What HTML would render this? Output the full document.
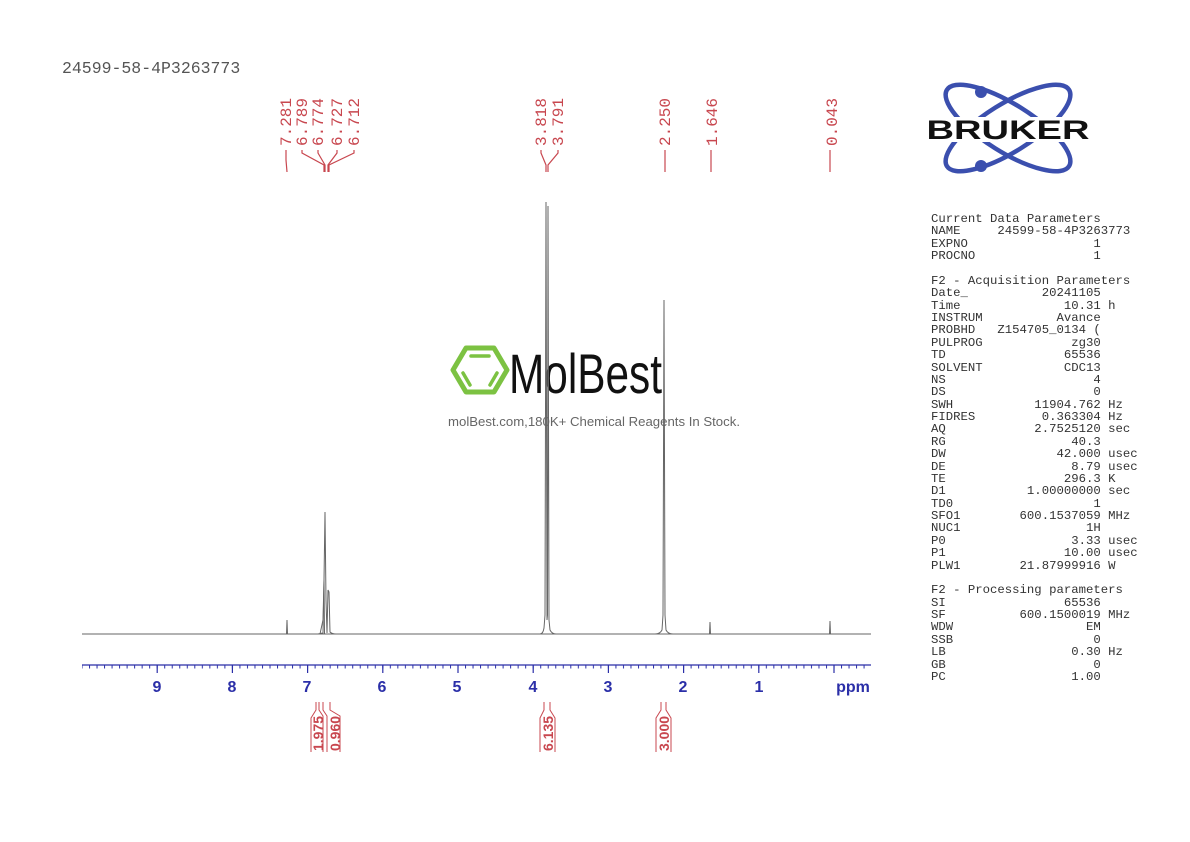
<!DOCTYPE html>
<html><head><meta charset="utf-8"><style>
html,body{margin:0;padding:0;background:#fff;}
body{width:1190px;height:842px;position:relative;overflow:hidden;}
pre{position:absolute;left:931px;top:213px;margin:0;font-family:"Liberation Mono",monospace;font-size:12.3px;line-height:12.37px;color:#333;}
</style></head><body>
<svg width="1190" height="842" style="position:absolute;left:0;top:0" xmlns="http://www.w3.org/2000/svg">
<defs>
<pattern id="mt" patternUnits="userSpaceOnUse" x="833.5" y="0" width="7.52" height="20">
<rect x="0" y="0" width="1" height="20" fill="#2b2fa8"/>
</pattern>
</defs>
<text x="62" y="73" font-family="Liberation Mono,monospace" font-size="16.5" fill="#555">24599-58-4P3263773</text>

<!-- peak labels -->
<g font-family="Liberation Mono,monospace" font-size="16" fill="#c8474f">
<text transform="translate(291,146) rotate(-90)">7.281</text>
<text transform="translate(307,146) rotate(-90)">6.789</text>
<text transform="translate(323,146) rotate(-90)">6.774</text>
<text transform="translate(342,146) rotate(-90)">6.727</text>
<text transform="translate(359,146) rotate(-90)">6.712</text>
<text transform="translate(546,146) rotate(-90)">3.818</text>
<text transform="translate(563,146) rotate(-90)">3.791</text>
<text transform="translate(670,146) rotate(-90)">2.250</text>
<text transform="translate(717,146) rotate(-90)">1.646</text>
<text transform="translate(837,146) rotate(-90)">0.043</text>
</g>
<g stroke="#c8474f" stroke-width="1.2" fill="none">
<path d="M286,150 L286,160 L287,172"/>
<path d="M302,150 L302,153 L324,165 L324,172"/>
<path d="M318,150 L318,153 L325,165 L325,172"/>
<path d="M337,150 L337,153 L328,165 L328,172"/>
<path d="M354,150 L354,153 L329,165 L329,172"/>
<path d="M541,150 L541,153 L546,165 L546,172"/>
<path d="M558,150 L558,153 L548,165 L548,172"/>
<path d="M665,150 L665,172"/>
<path d="M711,150 L711,172"/>
<path d="M830,150 L830,172"/>
</g>

<!-- Bruker logo -->
<g fill="none" stroke="#3b4fae" stroke-width="4.5">
<ellipse cx="1008" cy="128" rx="72" ry="24" transform="rotate(32 1008 128)"/>
<ellipse cx="1008" cy="128" rx="72" ry="24" transform="rotate(-32 1008 128)"/>
</g>
<circle cx="981" cy="92" r="6" fill="#3b4fae"/>
<circle cx="981" cy="166" r="6" fill="#3b4fae"/>
<rect x="924" y="117" width="168" height="25" fill="#fff"/>
<text x="1008" y="139" text-anchor="middle" font-family="Liberation Sans,sans-serif" font-weight="bold" font-size="27" fill="#111" textLength="163" lengthAdjust="spacingAndGlyphs">BRUKER</text>

<!-- MolBest watermark -->
<g fill="none" stroke="#7cc242" stroke-width="5" stroke-linejoin="round">
<polygon points="466,348 494,348 507,370 494,392 466,392 453,370"/>
</g>
<g stroke="#7cc242" stroke-width="3.5" stroke-linecap="round">
<line x1="471" y1="356" x2="489" y2="356"/>
<line x1="463" y1="373" x2="470" y2="385"/>
<line x1="497" y1="373" x2="490" y2="385"/>
</g>
<text x="509" y="393" font-family="Liberation Sans Narrow,Liberation Sans,sans-serif" font-size="56" fill="#111" textLength="153" lengthAdjust="spacingAndGlyphs">MolBest</text>
<text x="448" y="426" font-family="Liberation Sans,sans-serif" font-size="13" fill="#666" textLength="292" lengthAdjust="spacingAndGlyphs">molBest.com,180K+ Chemical Reagents In Stock.</text>

<!-- spectrum -->
<g stroke="#666" stroke-width="1" fill="none">
<line x1="82" y1="634" x2="871" y2="634"/>
<path d="M284,634 L286.5,634 L287,620 L287.5,634 L290,634"/>
<path d="M318,634 Q322,633 323,633 L324,580 L325,512 L326,600 L327,633 L328,590 L329,592 L330,632 Q332,634 336,634"/>
<path d="M320,634 L323,620 L324,580 L324.5,634"/>
<path d="M540,634 Q543,634 544,628 L545,615 L546,202 L547,620 L547.5,615 L548,206 L549,620 L550,630 Q552,634 556,634"/>
<path d="M655,634 Q660,634 662,630 L663,615 L664,300 L665,615 L666,630 Q668,634 673,634"/>
<path d="M708,634 L709.5,634 L710,622 L710.5,634 L712,634"/>
<path d="M828,634 L829.5,634 L830,621 L830.5,634 L832,634"/>
</g>

<!-- axis -->
<rect x="82" y="665" width="789" height="3.5" fill="url(#mt)"/>
<g stroke="#2b2fa8" stroke-width="1.2">
<line x1="82" y1="665" x2="871" y2="665"/>
<path d="M157.2,665v8M232.4,665v8M307.6,665v8M382.8,665v8M458,665v8M533.2,665v8M608.4,665v8M683.6,665v8M758.8,665v8M834,665v8"/>
</g>
<g font-family="Liberation Sans,sans-serif" font-weight="bold" font-size="16" fill="#2b2fa8" text-anchor="middle">
<text x="157" y="692">9</text><text x="232" y="692">8</text><text x="307" y="692">7</text>
<text x="382" y="692">6</text><text x="457" y="692">5</text><text x="533" y="692">4</text>
<text x="608" y="692">3</text><text x="683" y="692">2</text><text x="759" y="692">1</text>
<text x="853" y="692">ppm</text>
</g>

<!-- integrals -->
<g stroke="#c8474f" stroke-width="1" fill="none">
<path d="M311,752 L311,718 L316,710 L316,702"/>
<path d="M319,702 L319,710 L323,716 L323,752"/>
<path d="M327,752 L327,716 L323,710 L323,702"/>
<path d="M340,752 L340,716 L330,710 L330,702"/>
<path d="M540,752 L540,718 L544,710 L544,702"/>
<path d="M550,702 L550,710 L555,718 L555,752"/>
<path d="M656,752 L656,718 L661,710 L661,702"/>
<path d="M666,702 L666,710 L671,718 L671,752"/>
</g>
<g font-family="Liberation Sans,sans-serif" font-weight="bold" font-size="14" fill="#c8474f">
<text transform="translate(323,751) rotate(-90)">1.975</text>
<text transform="translate(340,751) rotate(-90)">0.960</text>
<text transform="translate(553,751) rotate(-90)">6.135</text>
<text transform="translate(669,751) rotate(-90)">3.000</text>
</g>
</svg>
<pre>Current Data Parameters
NAME     24599-58-4P3263773
EXPNO                 1
PROCNO                1

F2 - Acquisition Parameters
Date_          20241105
Time              10.31 h
INSTRUM          Avance
PROBHD   Z154705_0134 (
PULPROG            zg30
TD                65536
SOLVENT           CDC13
NS                    4
DS                    0
SWH           11904.762 Hz
FIDRES         0.363304 Hz
AQ            2.7525120 sec
RG                 40.3
DW               42.000 usec
DE                 8.79 usec
TE                296.3 K
D1           1.00000000 sec
TD0                   1
SFO1        600.1537059 MHz
NUC1                 1H
P0                 3.33 usec
P1                10.00 usec
PLW1        21.87999916 W

F2 - Processing parameters
SI                65536
SF          600.1500019 MHz
WDW                  EM
SSB                   0
LB                 0.30 Hz
GB                    0
PC                 1.00</pre>
</body></html>
